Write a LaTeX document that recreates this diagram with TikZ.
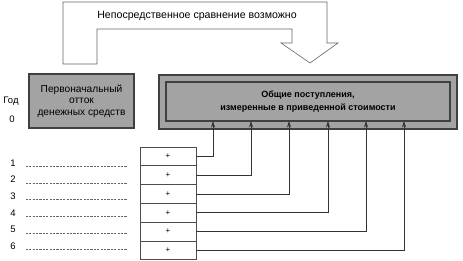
\documentclass[tikz,border=0pt]{standalone}
\usepackage{fontspec}
\setmainfont{Liberation Sans}
\usetikzlibrary{arrows.meta,positioning}

\begin{document}
\begin{tikzpicture}[x=1pt,y=-1pt,
  graybox/.style={draw=black!75,line width=1.2pt,fill=black!36,inner sep=0pt},
  plusbox/.style={draw=black!70,line width=0.6pt,minimum width=56pt,minimum height=18.8pt,inner sep=0pt,font=\fontsize{8}{9}\selectfont},
  link/.style={draw=black!80,line width=0.6pt,-{Stealth[length=6.5pt,width=4pt]}},
  yearlbl/.style={font=\fontsize{9.5}{10}\selectfont,inner sep=0pt},
  blankline/.style={draw=black!60,line width=0.5pt,dash pattern=on 2.2pt off 1.2pt}]
\useasboundingbox (0,0) rectangle (463,261);
\draw[black!60,line width=0.6pt,fill=white] (63,64) -- (63,2) -- (327,2) -- (327,43) -- (338,43) -- (310,63)
  -- (281,43) -- (292,43) -- (292,29) -- (97,29) -- (97,64) -- cycle;
\node[font=\fontsize{10.6}{12}\selectfont] (cmp) at (197,16) {Непосредственное сравнение возможно};
\node[graybox,minimum width=105pt,minimum height=54pt,align=center,font=\fontsize{10.2}{11.5}\selectfont] (out) at (81.5,101)
  {Первоначальный\\отток\\денежных средств};
\node[graybox,minimum width=298pt,minimum height=54pt] (pv) at (308,102) {};
\node[graybox,minimum width=284pt,minimum height=39pt,align=center,font=\bfseries\fontsize{9}{13}\selectfont] (pvin) at (308,101.5)
  {Общие поступления,\\измеренные в приведенной стоимости};
\node[yearlbl] (god) at (11,101) {Год};
\node[yearlbl] (y0) at (12,119) {0};
\foreach \i/\x in {1/213,2/251,3/289,4/328,5/366,6/404} {
  \node[plusbox] (p\i) at (168,{137.6+18.8*\i}) {+};
  \coordinate (t\i) at (\x,121);
  \draw[link] (p\i.east) -| (t\i);
  \node[yearlbl] (n\i) at (13,{146.4+16.6*\i}) {\i};
  \draw[blankline] ([xshift=10pt,yshift=-3.5pt]n\i.east) -- ++(101,0);
}
\end{tikzpicture}
\end{document}
